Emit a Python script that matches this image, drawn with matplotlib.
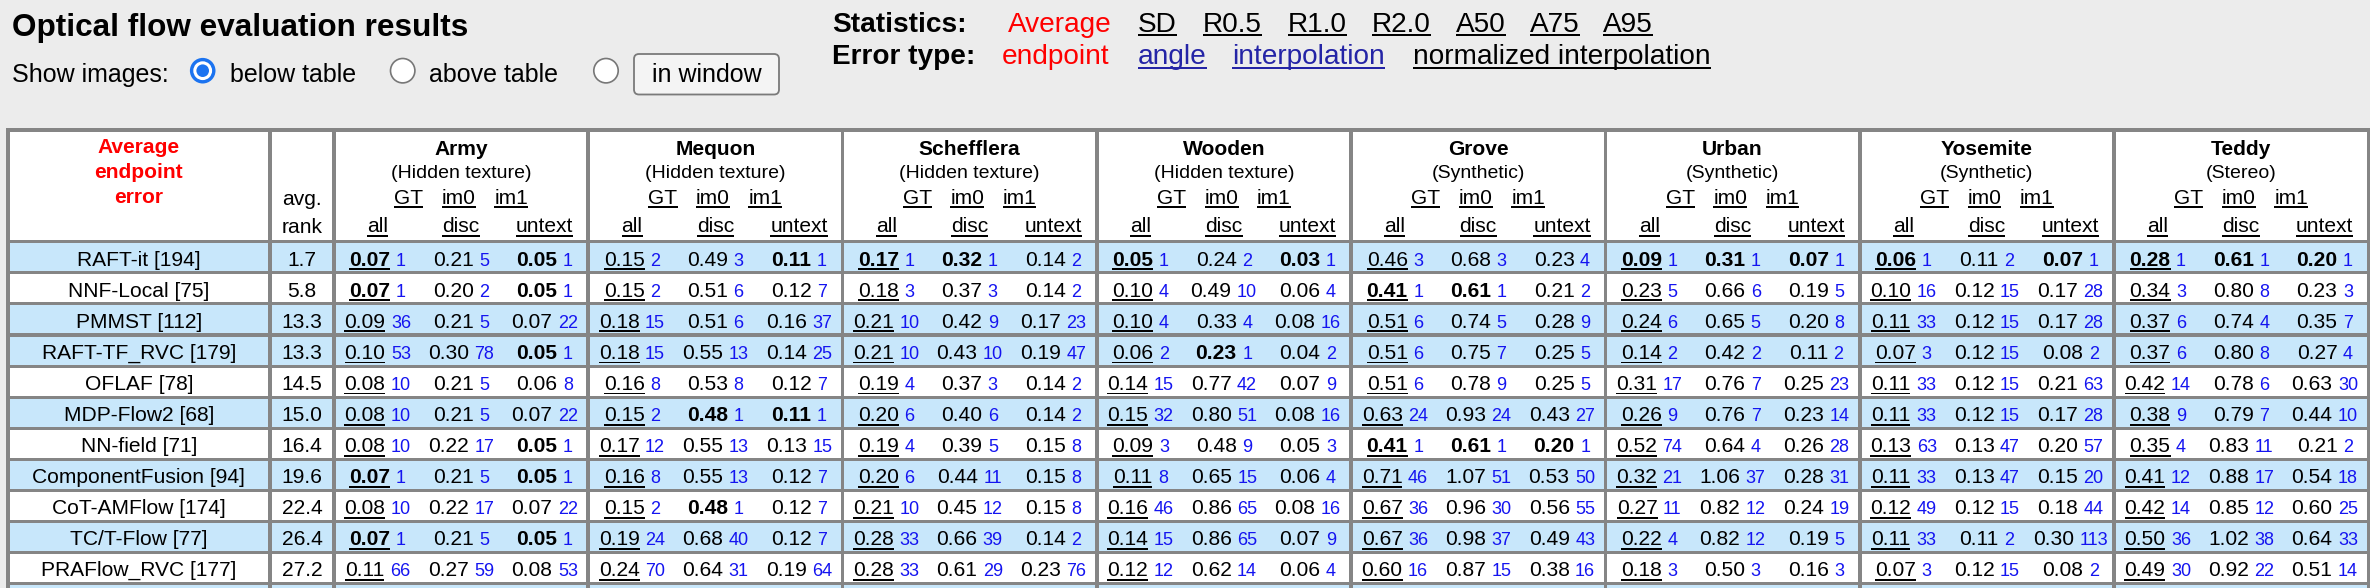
import matplotlib
matplotlib.use("Agg")
import matplotlib.pyplot as plt
from matplotlib.patches import Rectangle, Circle, FancyBboxPatch

# ---- values ----
methods = ["RAFT-it [194]", "NNF-Local [75]", "PMMST [112]", "RAFT-TF_RVC [179]",
           "OFLAF [78]", "MDP-Flow2 [68]", "NN-field [71]", "ComponentFusion [94]",
           "CoT-AMFlow [174]", "TC/T-Flow [77]", "PRAFlow_RVC [177]"]
avg_rank = [1.7, 5.8, 13.3, 13.3, 14.5, 15.0, 16.4, 19.6, 22.4, 26.4, 27.2]

datasets = ["Army", "Mequon", "Schefflera", "Wooden", "Grove", "Urban", "Yosemite", "Teddy"]
subtitles = ["(Hidden texture)", "(Hidden texture)", "(Hidden texture)", "(Hidden texture)",
             "(Synthetic)", "(Synthetic)", "(Synthetic)", "(Stereo)"]
measures = ["all", "disc", "untext"]
image_links = ["GT", "im0", "im1"]

army_err = [[0.07, 0.21, 0.05], [0.07, 0.20, 0.05], [0.09, 0.21, 0.07], [0.10, 0.30, 0.05],
            [0.08, 0.21, 0.06], [0.08, 0.21, 0.07], [0.08, 0.22, 0.05], [0.07, 0.21, 0.05],
            [0.08, 0.22, 0.07], [0.07, 0.21, 0.05], [0.11, 0.27, 0.08]]
army_rank = [[1, 5, 1], [1, 2, 1], [36, 5, 22], [53, 78, 1], [10, 5, 8], [10, 5, 22],
             [10, 17, 1], [1, 5, 1], [10, 17, 22], [1, 5, 1], [66, 59, 53]]
mequon_err = [[0.15, 0.49, 0.11], [0.15, 0.51, 0.12], [0.18, 0.51, 0.16], [0.18, 0.55, 0.14],
              [0.16, 0.53, 0.12], [0.15, 0.48, 0.11], [0.17, 0.55, 0.13], [0.16, 0.55, 0.12],
              [0.15, 0.48, 0.12], [0.19, 0.68, 0.12], [0.24, 0.64, 0.19]]
mequon_rank = [[2, 3, 1], [2, 6, 7], [15, 6, 37], [15, 13, 25], [8, 8, 7], [2, 1, 1],
               [12, 13, 15], [8, 13, 7], [2, 1, 7], [24, 40, 7], [70, 31, 64]]
schefflera_err = [[0.17, 0.32, 0.14], [0.18, 0.37, 0.14], [0.21, 0.42, 0.17], [0.21, 0.43, 0.19],
                  [0.19, 0.37, 0.14], [0.20, 0.40, 0.14], [0.19, 0.39, 0.15], [0.20, 0.44, 0.15],
                  [0.21, 0.45, 0.15], [0.28, 0.66, 0.14], [0.28, 0.61, 0.23]]
schefflera_rank = [[1, 1, 2], [3, 3, 2], [10, 9, 23], [10, 10, 47], [4, 3, 2], [6, 6, 2],
                   [4, 5, 8], [6, 11, 8], [10, 12, 8], [33, 39, 2], [33, 29, 76]]
wooden_err = [[0.05, 0.24, 0.03], [0.10, 0.49, 0.06], [0.10, 0.33, 0.08], [0.06, 0.23, 0.04],
              [0.14, 0.77, 0.07], [0.15, 0.80, 0.08], [0.09, 0.48, 0.05], [0.11, 0.65, 0.06],
              [0.16, 0.86, 0.08], [0.14, 0.86, 0.07], [0.12, 0.62, 0.06]]
wooden_rank = [[1, 2, 1], [4, 10, 4], [4, 4, 16], [2, 1, 2], [15, 42, 9], [32, 51, 16],
               [3, 9, 3], [8, 15, 4], [46, 65, 16], [15, 65, 9], [12, 14, 4]]
grove_err = [[0.46, 0.68, 0.23], [0.41, 0.61, 0.21], [0.51, 0.74, 0.28], [0.51, 0.75, 0.25],
             [0.51, 0.78, 0.25], [0.63, 0.93, 0.43], [0.41, 0.61, 0.20], [0.71, 1.07, 0.53],
             [0.67, 0.96, 0.56], [0.67, 0.98, 0.49], [0.60, 0.87, 0.38]]
grove_rank = [[3, 3, 4], [1, 1, 2], [6, 5, 9], [6, 7, 5], [6, 9, 5], [24, 24, 27],
              [1, 1, 1], [46, 51, 50], [36, 30, 55], [36, 37, 43], [16, 15, 16]]
urban_err = [[0.09, 0.31, 0.07], [0.23, 0.66, 0.19], [0.24, 0.65, 0.20], [0.14, 0.42, 0.11],
             [0.31, 0.76, 0.25], [0.26, 0.76, 0.23], [0.52, 0.64, 0.26], [0.32, 1.06, 0.28],
             [0.27, 0.82, 0.24], [0.22, 0.82, 0.19], [0.18, 0.50, 0.16]]
urban_rank = [[1, 1, 1], [5, 6, 5], [6, 5, 8], [2, 2, 2], [17, 7, 23], [9, 7, 14],
              [74, 4, 28], [21, 37, 31], [11, 12, 19], [4, 12, 5], [3, 3, 3]]
yosemite_err = [[0.06, 0.11, 0.07], [0.10, 0.12, 0.17], [0.11, 0.12, 0.17], [0.07, 0.12, 0.08],
                [0.11, 0.12, 0.21], [0.11, 0.12, 0.17], [0.13, 0.13, 0.20], [0.11, 0.13, 0.15],
                [0.12, 0.12, 0.18], [0.11, 0.11, 0.30], [0.07, 0.12, 0.08]]
yosemite_rank = [[1, 2, 1], [16, 15, 28], [33, 15, 28], [3, 15, 2], [33, 15, 63], [33, 15, 28],
                 [63, 47, 57], [33, 47, 20], [49, 15, 44], [33, 2, 113], [3, 15, 2]]
teddy_err = [[0.28, 0.61, 0.20], [0.34, 0.80, 0.23], [0.37, 0.74, 0.35], [0.37, 0.80, 0.27],
             [0.42, 0.78, 0.63], [0.38, 0.79, 0.44], [0.35, 0.83, 0.21], [0.41, 0.88, 0.54],
             [0.42, 0.85, 0.60], [0.50, 1.02, 0.64], [0.49, 0.92, 0.51]]
teddy_rank = [[1, 1, 1], [3, 8, 3], [6, 4, 7], [6, 8, 4], [14, 6, 30], [9, 7, 10],
              [4, 11, 2], [12, 17, 18], [14, 12, 25], [36, 38, 33], [30, 22, 14]]

errors = [army_err, mequon_err, schefflera_err, wooden_err,
          grove_err, urban_err, yosemite_err, teddy_err]
ranks = [army_rank, mequon_rank, schefflera_rank, wooden_rank,
         grove_rank, urban_rank, yosemite_rank, teddy_rank]

stats_items = ["Average", "SD", "R0.5", "R1.0", "R2.0", "A50", "A75", "A95"]
error_types = ["endpoint", "angle", "interpolation", "normalized interpolation"]
show_options = ["below table", "above table"]

# ---- page look ----
W, H = 2370, 588
FONT = "Liberation Sans"
PT = 0.72           # px -> pt at dpi 100
BG = "#ececec"
GRID = "#858585"
BLUE_ROW = "#c8e7fb"
RANK_C = "#1414f0"
LINK_C = "#2424a6"
shaded = [True, False, True, True, False, True, False, True, False, True, False, True]

fig = plt.figure(figsize=(W / 100, H / 100), dpi=100)
fig.patch.set_facecolor(BG)
ax = fig.add_axes([0, 0, 1, 1])
ax.set_xlim(0, W)
ax.set_ylim(H, 0)
ax.axis("off")
ren = fig.canvas.get_renderer()


def txt(x, y, s, px, ha="left", bold=False, color="black", under=False, ucolor=None, ugap=2.6):
    t = ax.text(x, y, s, fontsize=px * PT, family=FONT, weight="bold" if bold else "normal",
                color=color, ha=ha, va="baseline")
    w = t.get_window_extent(ren).width
    if under:
        x0 = {"left": x, "center": x - w / 2, "right": x - w}[ha]
        ax.add_patch(Rectangle((x0, y + ugap), w, 1.9, color=ucolor or color, lw=0))
    return t, w


def textwidth(s, px, bold=False):
    t = ax.text(0, 0, s, fontsize=px * PT, family=FONT, weight="bold" if bold else "normal")
    w = t.get_window_extent(ren).width
    t.remove()
    return w


# ---- top controls ----
txt(12, 36, "Optical flow evaluation results", 31.5, bold=True)

txt(832, 32, "Statistics:", 28, bold=True)
stat_x = [1008, 1138, 1203, 1288, 1372, 1456, 1530, 1603]
for i, s in enumerate(stats_items):
    if i == 0:
        txt(stat_x[i], 32, s, 28, color="red")
    else:
        txt(stat_x[i], 32, s, 28, under=True, ugap=2.2)

txt(832, 63.5, "Error type:", 28, bold=True)
err_x = [1002, 1138, 1232, 1413]
err_c = ["red", LINK_C, LINK_C, "black"]
for i, s in enumerate(error_types):
    txt(err_x[i], 63.5, s, 28, color=err_c[i], under=i > 0, ugap=3.2)

txt(12.5, 81.7, "Show images:", 25)
ax.add_patch(Circle((202.7, 70.7), 12.8, color="#1b73f0", lw=0))
ax.add_patch(Circle((202.7, 70.7), 9.4, color="white", lw=0))
ax.add_patch(Circle((202.7, 70.7), 6.3, color="#1b73f0", lw=0))
txt(230, 81.7, show_options[0], 25)
for cx in (402.7, 606):
    ax.add_patch(Circle((cx, 70.7), 12.2, facecolor="white", edgecolor="#777777", lw=1.2))
txt(429, 81.7, show_options[1], 25)
ax.add_patch(FancyBboxPatch((634, 54), 145, 40.5, boxstyle="round,pad=0,rounding_size=5",
                            facecolor="#f4f4f4", edgecolor="#7a7a7a", lw=1.3))
txt(706.5, 81.7, "in window", 25, ha="center")

# ---- table grid ----
col_l = [9.5, 271.7] + [335.7 + 254.3 * k for k in range(8)]
col_r = [268.3, 332.3] + [335.7 + 254.3 * k + 250.7 for k in range(8)]
head_top, head_bot = 131.7, 240.0
row_top0, row_pitch, row_h = 243.3, 31.07, 28.0

ax.add_patch(Rectangle((6, 128.3), W - 6, H - 128.3, color=GRID, lw=0))
for l, r in zip(col_l, col_r):
    ax.add_patch(Rectangle((l, head_top), r - l, head_bot - head_top, color="white", lw=0))
    for i in range(len(shaded)):
        top = row_top0 + row_pitch * i
        ax.add_patch(Rectangle((l, top), r - l, row_h,
                               color=BLUE_ROW if shaded[i] else "white", lw=0))

# ---- header ----
name_cx = (col_l[0] + col_r[0]) / 2
for j, line in enumerate(["Average", "endpoint", "error"]):
    txt(name_cx, 153.3 + 25 * j, line, 21, ha="center", bold=True, color="red")
rank_cx = (col_l[1] + col_r[1]) / 2
txt(rank_cx, 205, "avg.", 21, ha="center")
txt(rank_cx, 232.7, "rank", 21, ha="center")

sub_off = [42.0, 125.3, 209.0]
for k, name in enumerate(datasets):
    left = col_l[k + 2]
    cx = left + 125.3
    txt(cx, 155.3, name, 21, ha="center", bold=True)
    txt(cx, 178, subtitles[k], 19.5, ha="center")
    widths = [textwidth(s, 21) for s in image_links]
    gap = 18.5
    x = cx - (sum(widths) + gap * 2) / 2
    for s, w in zip(image_links, widths):
        txt(x, 204, s, 21, under=True, ugap=2.2)
        x += w + gap
    for m, s in enumerate(measures):
        txt(left + sub_off[m], 232, s, 21, ha="center", under=True, ugap=2.6)

# ---- body ----
for i, name in enumerate(methods):
    top = row_top0 + row_pitch * i
    base = top + 22.2
    txt(name_cx, base, name, 21, ha="center")
    txt(rank_cx, base, f"{avg_rank[i]:.1f}", 21, ha="center")
    for k in range(len(datasets)):
        left = col_l[k + 2]
        for m in range(3):
            val = errors[k][i][m]
            rk = ranks[k][i][m]
            best = rk == 1
            vs, rs = f"{val:.2f}", str(rk)
            wv = textwidth(vs, 21, bold=best)
            wr = textwidth(rs, 18)
            gap = 5.5
            x0 = left + sub_off[m] - (wv + gap + wr) / 2
            txt(x0, base, vs, 21, bold=best, under=(m == 0), ugap=2.8)
            txt(x0 + wv + gap, base, rs, 18, color=RANK_C)

fig.savefig("out.png", dpi=100, facecolor=BG)
